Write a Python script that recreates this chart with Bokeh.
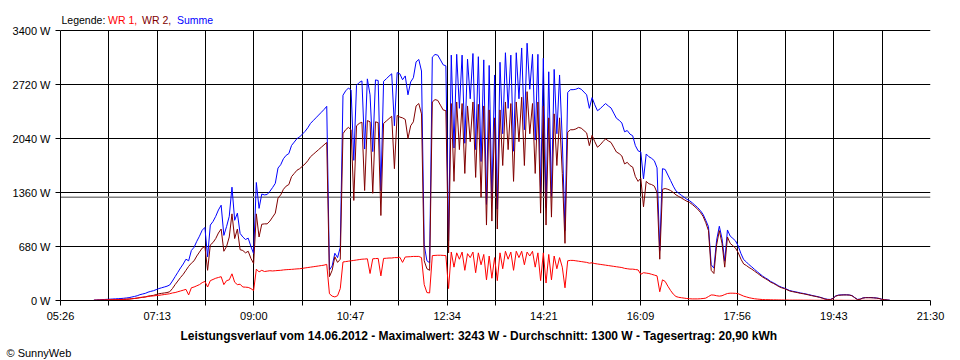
import numpy as np
from bokeh.plotting import figure
from bokeh.models import FixedTicker, Span, Label, Range1d, Title
from bokeh.embed import file_html
from bokeh.resources import INLINE

# ---------------- data ----------------
axis_start = "05:26"
axis_end = "21:30"
tick_labels = ["05:26", "07:13", "09:00", "10:47", "12:34", "14:21", "16:09", "17:56", "19:43", "21:30"]
y_ticks = [0, 680, 1360, 2040, 2720, 3400]
first_sample = "06:03"
step_min = 3

# WR 1 (W), one value every 3 minutes from 06:03
wr1 = [
    3, 4, 5, 6, 7, 8, 9, 10, 11, 12,
    13, 14, 16, 18, 22, 25, 30, 38, 42, 45,
    50, 55, 58, 62, 65, 70, 75, 80, 85, 95,
    100, 110, 120, 130, 140, 70, 160, 170, 185, 200,
    225, 240, 170, 250, 265, 280, 290, 300, 200, 250,
    260, 336, 230, 200, 205, 170, 168, 165, 150, 125,
    395, 360, 380, 365, 370, 375, 372, 375, 378, 380,
    385, 388, 390, 392, 395, 398, 400, 405, 410, 415,
    420, 425, 430, 435, 440, 445, 455, 85, 55, 45,
    60, 150, 485, 490, 495, 500, 505, 510, 515, 520,
    522, 525, 340, 525, 528, 530, 310, 530, 532, 535,
    535, 540, 540, 545, 480, 548, 550, 552, 555, 555,
    555, 540, 200, 100, 95, 565, 568, 570, 570, 568,
    565, 150, 610, 420, 600, 520, 610, 380, 590, 540,
    610, 350, 600, 450, 580, 260, 560, 280, 540, 250,
    600, 400, 620, 520, 610, 380, 620, 540, 620, 450,
    610, 560, 620, 420, 600, 250, 600, 220, 580, 260,
    560, 400, 540, 420, 160, 500, 505, 505, 500, 495,
    490, 485, 480, 470, 475, 465, 460, 455, 450, 445,
    440, 435, 430, 425, 420, 415, 405, 400, 395, 395,
    390, 385, 330, 350, 345, 340, 330, 320, 310, 110,
    260, 240, 180, 126, 80, 50, 40, 35, 30, 25,
    22, 20, 20, 20, 22, 25, 30, 50, 70, 68,
    60, 55, 60, 75, 88, 92, 92, 90, 85, 70,
    55, 45, 35, 28, 22, 18, 15, 12, 10, 10,
    9, 8, 8, 7, 7, 6, 6, 5, 5, 5,
    5, 5, 4, 4, 4, 4, 3, 3, 3, 3,
    3, 3, 3, 3, 3, 3, 3, 2, 2, 2,
    2, 2, 2, 2, 2, 2, 2, 2, 2, 2,
    1, 1, 1, 1, 0,
]

# WR 2 (W), same sampling
wr2 = [
    2, 3, 4, 5, 6, 7, 8, 9, 10, 11,
    12, 14, 16, 18, 22, 26, 30, 35, 40, 45,
    55, 60, 65, 75, 85, 90, 95, 100, 110, 150,
    200, 245, 290, 330, 380, 430, 470, 500, 560, 610,
    660, 680, 380, 700, 730, 780, 850, 900, 620, 680,
    800, 1091, 780, 900, 640, 630, 600, 620, 530, 465,
    1091, 800, 960, 965, 965, 1000, 1050, 1100, 1290, 1330,
    1400, 1440, 1460, 1560, 1600, 1640, 1660, 1690, 1720, 1760,
    1810, 1840, 1870, 1900, 1930, 1960, 1990, 300, 380, 550,
    480, 520, 2100, 2150, 2180, 2150, 1260, 2200, 2230, 2245,
    1385, 2266, 2250, 1350, 2250, 2240, 1070, 2230, 2260, 2290,
    2320, 1660, 2330, 2310, 2300, 2280, 2040, 2200, 2250, 2450,
    2480, 2350, 500, 400, 380, 2500, 2530, 2520, 2460, 2400,
    2390, 600, 2480, 1500, 2500, 1900, 2480, 1600, 2450, 2000,
    2500, 1550, 2470, 1300, 2450, 950, 2400, 1000, 2300, 900,
    2400, 1700, 2500, 1900, 2480, 1500, 2500, 2000, 2560, 1700,
    2630, 2100, 2480, 1600, 2500, 1100, 2450, 950, 2300, 1050,
    2350, 1700, 2300, 1600, 720, 2120, 2150, 2150, 2160, 2180,
    2170, 2140, 2110, 1950, 2080, 2000, 1930, 1960, 2000, 2035,
    2010, 1990, 1930, 1870, 1850, 1820, 1720, 1740, 1700, 1680,
    1560, 1500, 1540, 1180, 1500, 1470, 1460, 1440, 1360, 520,
    1400, 1410, 1400, 1385, 1360, 1330, 1310, 1290, 1270, 1250,
    1235, 1210, 1180, 1150, 1110, 1060, 980, 880, 380, 340,
    700, 880, 720, 420, 800, 720, 690, 660, 600, 520,
    460, 440, 415, 395, 370, 345, 320, 295, 275, 255,
    230, 215, 195, 175, 160, 150, 135, 120, 112, 105,
    98, 90, 85, 78, 70, 62, 55, 48, 40, 30,
    18, 12, 10, 25, 55, 65, 68, 70, 70, 68,
    60, 35, 12, 15, 30, 35, 35, 35, 33, 30,
    25, 15, 10, 6, 3,
]

average_w = 1300
title_text = ("Leistungsverlauf vom 14.06.2012 - Maximalwert: 3243 W - "
              "Durchschnitt: 1300 W - Tagesertrag: 20,90 kWh")
legend_parts = [("Legende:", "#000000"), ("WR 1,", "#FF0000"), ("WR 2,", "#800000"), ("Summe", "#0000FF")]
credit_text = "\u00a9 SunnyWeb"

# ---------------- derived ----------------
def to_min(s):
    h, m = s.split(":")
    return int(h) * 60 + int(m)

t0 = to_min(axis_start)
t1 = to_min(axis_end)
n_div = 2 * (len(tick_labels) - 1)
unit = (t1 - t0) / n_div
minutes = to_min(first_sample) + step_min * np.arange(len(wr1))
xs = (minutes - t0) / unit
wr1a = np.array(wr1, dtype=float)
wr2a = np.array(wr2, dtype=float)
summe = wr1a + wr2a

# ---------------- layout ----------------
W, H = 960, 360
BL, BR, BT, BB = 60, 30, 0, 60
FW, FH = W - BL - BR, H - BT - BB
ymax = y_ticks[-1]
PLOT_TOP = 30                      # pixel row of the top gridline
w_per_px = ymax / (FH - PLOT_TOP)  # watts per pixel
ytop = FH * w_per_px               # range end so that the legend row above the grid is inside the frame

def dx(page_x):
    return (page_x - BL) / FW * n_div

def dy(page_y):
    return (BT + FH - page_y) * w_per_px

FONT = "Liberation Sans"

p = figure(width=W, height=H, x_range=Range1d(0, n_div), y_range=Range1d(0, ytop),
           output_backend="svg", toolbar_location=None,
           min_border_left=BL, min_border_right=BR, min_border_top=BT, min_border_bottom=BB)
p.outline_line_color = None
p.background_fill_color = "white"
p.border_fill_color = "white"

# grids
inner_ticks = list(range(1, n_div))
p.ygrid.ticker = FixedTicker(ticks=y_ticks)
p.ygrid.grid_line_color = "black"
p.ygrid.grid_line_alpha = 1.0
p.ygrid.grid_line_width = 1
xg = p.xgrid[0]
xg.ticker = FixedTicker(ticks=inner_ticks)
xg.grid_line_color = "black"
xg.grid_line_alpha = 1.0
xg.grid_line_width = 1
if "cross_bounds" in xg.properties():
    xg.cross_bounds = (0, ymax)
else:
    xg.visible = False
    p.segment(x0=inner_ticks, y0=[0] * len(inner_ticks), x1=inner_ticks, y1=[ymax] * len(inner_ticks),
              line_color="black", line_width=1, level="underlay")

# axes
p.xaxis.ticker = FixedTicker(ticks=list(range(n_div + 1)))
p.xaxis.major_label_overrides = {j: (tick_labels[j // 2] if j % 2 == 0 else "") for j in range(n_div + 1)}
p.yaxis.ticker = FixedTicker(ticks=y_ticks)
p.yaxis.major_label_overrides = {v: f"{v} W" for v in y_ticks}
p.yaxis.bounds = (0, ymax)
for ax in (p.xaxis[0], p.yaxis[0]):
    ax.axis_line_color = "black"
    ax.major_tick_line_color = "black"
    ax.major_tick_out = 5
    ax.major_tick_in = 0
    ax.minor_tick_line_color = None
    ax.major_label_text_font = FONT
    ax.major_label_text_font_size = "11px"
    ax.major_label_text_color = "black"
p.xaxis.major_label_standoff = 4
p.yaxis.major_label_standoff = 5

# average line
p.add_layout(Span(location=average_w, dimension="width", line_color="#808080",
                  line_width=1.5, level="underlay"))

# series
p.line(xs, summe, line_color="#0000FF", line_width=1)
p.line(xs, wr2a, line_color="#800000", line_width=1)
p.line(xs, wr1a, line_color="#FF0000", line_width=1)

# legend text (inside the frame's top strip)
leg_x = [61, 107.5, 141.5, 176.5]
for (txt, col), px in zip(legend_parts, leg_x):
    p.add_layout(Label(x=dx(px), y=dy(19), text=txt, text_color=col, text_font=FONT,
                       text_font_size="10.5px", text_align="left", text_baseline="alphabetic"))

# caption and credit below the axis
p.add_layout(Title(text=title_text, align="left", offset=120, standoff=4,
                   text_font=FONT, text_font_size="12px", text_font_style="bold",
                   text_color="black"), "below")
p.add_layout(Title(text=credit_text, align="left", offset=-54, standoff=0,
                   text_font=FONT, text_font_size="11px", text_font_style="normal",
                   text_color="black"), "below")

open("out.html", "w").write(file_html(p, INLINE))
